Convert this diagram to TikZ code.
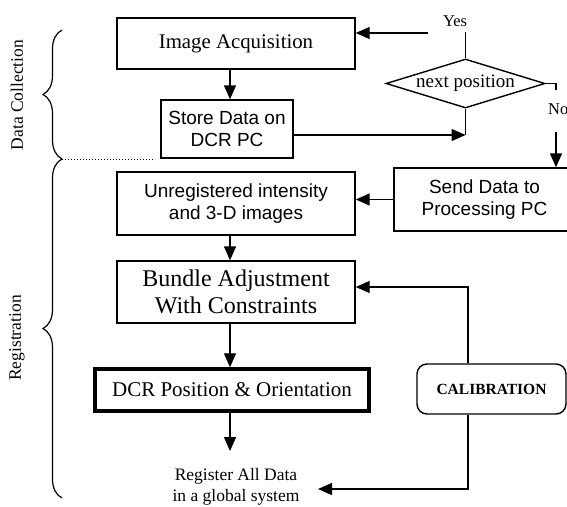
\documentclass[tikz,border=0pt]{standalone}
\usepackage{fontspec}
\setmainfont{Liberation Serif}
\newfontfamily\sansf{Liberation Sans}
\usetikzlibrary{arrows.meta,shapes.geometric,decorations.pathreplacing}
\begin{document}
\begin{tikzpicture}[x=1pt,y=-1pt,
  box/.style={draw,line width=1.4pt,inner sep=0pt,align=center},
  sanstxt/.style={font=\sansf\fontsize{19}{22}\selectfont},
  arr/.style={line width=1.4pt,-{Triangle[length=14pt,width=12pt]}},
  ln/.style={line width=1.4pt},
  brc/.style={line width=1.2pt,decorate,decoration={brace,amplitude=19pt}}]
\useasboundingbox (0,0) rectangle (567,506);
% nodes
\node[box,font=\fontsize{20.8}{24}\selectfont,minimum width=238pt,minimum height=51pt] (ia) at (236,43.5) {Image Acquisition};
\node[box,sanstxt,minimum width=132pt,minimum height=58pt] (sd) at (227,129) {Store Data on\\DCR PC};
\node[box,sanstxt,minimum width=238pt,minimum height=63pt] (ur) at (236,203.5) {Unregistered intensity\\and 3-D images};
\node[box,sanstxt,minimum width=181pt,minimum height=63pt] (sp) at (484.5,199.5) {Send Data to\\Processing PC};
\node[box,font=\fontsize{24}{27}\selectfont,minimum width=238pt,minimum height=62pt] (ba) at (236,292) {Bundle Adjustment\\With Constraints};
\node[box,line width=3.5pt,font=\fontsize{21}{24}\selectfont,minimum width=274pt,minimum height=42pt] (dcr) at (232,390) {DCR Position \& Orientation};
\node[font=\fontsize{17.5}{21}\selectfont,align=center] (reg) at (236,487) {Register All Data\\in a global system};
\node[box,rounded corners=10pt,font=\bfseries\fontsize{15.5}{18}\selectfont,minimum width=149pt,minimum height=50pt] (cal) at (491.5,389) {CALIBRATION};
\node[draw,diamond,aspect=3.24,line width=1.4pt,inner sep=0pt,minimum width=159pt,minimum height=49pt,font=\fontsize{19}{22}\selectfont] (np) at (465.5,83.5) {next position};
\node[font=\fontsize{16.5}{19}\selectfont] (yes) at (455,21) {Yes};
\node[font=\fontsize{16.5}{19}\selectfont,anchor=west,inner sep=0pt] (no) at (548,109) {No};
\node[rotate=90,font=\fontsize{17.5}{20}\selectfont] (dc) at (17,95) {Data Collection};
\node[rotate=90,font=\fontsize{17.5}{20}\selectfont] (rg) at (17,338) {Registration};
% coordinates
\coordinate (ux) at (230,0);
\coordinate (yesL) at (428,33);
\coordinate (yesB) at (465.5,32);
\coordinate (noT) at (556,90);
\coordinate (noB) at (556,132);
\coordinate (j1) at (465.5,135);
\coordinate (c1) at (468,287);
\coordinate (c2) at (468,489);
\coordinate (regin) at (318,489);
\coordinate (bj) at (62,159);
\coordinate (dotE) at (155,159);
\coordinate (btop) at (62,30);
\coordinate (bbot) at (62,498);
% connectors
\draw[arr] (ia.south -| ux) -- (sd.north -| ux);
\draw[arr] (yesL) -- (yesL -| ia.east);
\draw[ln] (np.north) -- (yesB);
\draw[ln] (np.east) -| (noT);
\draw[arr] (noB) -- (noB |- sp.north);
\draw[ln] (np.south) -- (j1);
\draw[arr] (sd.east |- j1) -- (j1);
\draw[arr] (sp.west) -- (ur.east |- sp.west);
\draw[arr] (ur.south -| ux) -- (ba.north -| ux);
\draw[arr] (ba.south -| ux) -- (dcr.north -| ux);
\draw[arr,shorten >=14pt] (dcr.south -| ux) -- (reg.north -| ux);
\draw[arr] (cal.north -| c1) |- (ba.east |- c1);
\draw[arr] (cal.south -| c2) |- (regin);
% braces
\draw[brc] (bj) -- (btop);
\draw[brc] (bbot) -- (bj);
\draw[dotted,line width=1pt] (bj) -- (dotE);
\end{tikzpicture}
\end{document}
